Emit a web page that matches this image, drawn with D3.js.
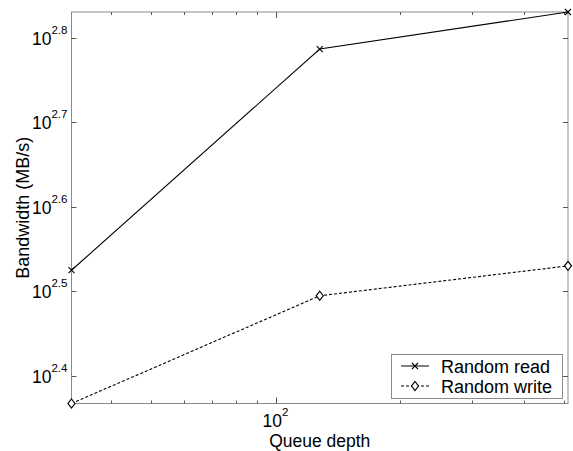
<!DOCTYPE html>
<html>
<head>
<meta charset="utf-8">
<script src="https://cdn.jsdelivr.net/npm/d3@7"></script>
<style>
  html, body { margin: 0; padding: 0; background: #fff; }
  svg { display: block; font-family: Arial, "Liberation Sans", sans-serif; }
</style>
</head>
<body>
<svg id="chart" width="573" height="451"></svg>
<script>
// Queue depths tested and measured bandwidth (MB/s)
const queueDepths = [32, 128, 512];
const randomRead = [335, 612, 677];
const randomWrite = [233, 312.5, 339];
const seriesNames = ["Random read", "Random write"];
const yTickExponents = [2.4, 2.5, 2.6, 2.7, 2.8];
const xMajorTicks = [100];
const xMinorTicks = [40, 50, 60, 70, 80, 90, 200, 300, 400, 500];

const svg = d3.select("#chart");
const box = { left: 71.5, right: 568, top: 12, bottom: 403.5 };

const x = d3.scaleLog()
  .domain([d3.min(queueDepths), d3.max(queueDepths)])
  .range([box.left, box.right]);
const y = d3.scaleLog()
  .domain([d3.min(randomWrite), d3.max(randomRead)])
  .range([box.bottom, box.top]);

const frameColor = "#8a8a8a";
const tickColor = "#555";
const labelSize = 17.5;
const supSize = 11.5;

// Axes frame
svg.append("rect")
  .attr("x", box.left).attr("y", box.top)
  .attr("width", box.right - box.left).attr("height", box.bottom - box.top)
  .attr("fill", "none").attr("stroke", frameColor).attr("stroke-width", 1);

// Inward ticks on all four sides
const ticks = svg.append("g").attr("stroke", tickColor).attr("stroke-width", 1);
function xTick(v, len) {
  const px = Math.round(x(v)) + 0.5;
  ticks.append("line").attr("x1", px).attr("x2", px).attr("y1", box.bottom).attr("y2", box.bottom - len);
  ticks.append("line").attr("x1", px).attr("x2", px).attr("y1", box.top).attr("y2", box.top + len);
}
xMajorTicks.forEach(v => xTick(v, 6));
xMinorTicks.forEach(v => xTick(v, 3));
yTickExponents.forEach(e => {
  const py = Math.round(y(Math.pow(10, e))) + 0.5;
  ticks.append("line").attr("x1", box.left).attr("x2", box.left + 5).attr("y1", py).attr("y2", py);
  ticks.append("line").attr("x1", box.right).attr("x2", box.right - 5).attr("y1", py).attr("y2", py);
});

// Y tick labels: 10 with superscript exponent
yTickExponents.forEach(e => {
  const py = y(Math.pow(10, e));
  const t = svg.append("text")
    .attr("x", 32).attr("y", py + 7)
    .attr("font-size", labelSize).attr("fill", "#000");
  t.append("tspan").text("10");
  t.append("tspan").attr("dy", -11).attr("font-size", supSize).text(e.toFixed(1));
});

// X tick labels
xMajorTicks.forEach(v => {
  const px = x(v);
  const t = svg.append("text")
    .attr("x", px - 13).attr("y", 427)
    .attr("font-size", labelSize).attr("fill", "#000");
  t.append("tspan").text("10");
  t.append("tspan").attr("dy", -11).attr("font-size", supSize).text(Math.round(Math.log10(v)));
});

// Axis titles
svg.append("text")
  .attr("x", (box.left + box.right) / 2).attr("y", 447)
  .attr("text-anchor", "middle").attr("font-size", 17.5).attr("fill", "#000")
  .text("Queue depth");
svg.append("text")
  .attr("transform", `translate(29,${(box.top + box.bottom) / 2}) rotate(-90)`)
  .attr("text-anchor", "middle").attr("font-size", 18).attr("fill", "#000")
  .text("Bandwidth (MB/s)");

const line = d3.line().x(d => x(d[0])).y(d => y(d[1]));
const readPts = queueDepths.map((q, i) => [q, randomRead[i]]);
const writePts = queueDepths.map((q, i) => [q, randomWrite[i]]);

// Series lines
svg.append("path").datum(readPts).attr("d", line)
  .attr("fill", "none").attr("stroke", "#000").attr("stroke-width", 1.1);
svg.append("path").datum(writePts).attr("d", line)
  .attr("fill", "none").attr("stroke", "#000").attr("stroke-width", 1.1)
  .attr("stroke-dasharray", "3,2");

// Markers
function crossMark(g, cx, cy) {
  const s = 3;
  g.append("path")
    .attr("d", `M${cx - s},${cy - s}L${cx + s},${cy + s}M${cx - s},${cy + s}L${cx + s},${cy - s}`)
    .attr("stroke", "#000").attr("stroke-width", 1.1).attr("fill", "none");
}
function diamondMark(g, cx, cy) {
  const w = 3.5, h = 4.5;
  g.append("path")
    .attr("d", `M${cx},${cy - h}L${cx + w},${cy}L${cx},${cy + h}L${cx - w},${cy}Z`)
    .attr("stroke", "#000").attr("stroke-width", 1.2).attr("fill", "#fff");
}
const marks = svg.append("g");
readPts.forEach(p => crossMark(marks, x(p[0]), y(p[1])));
writePts.forEach(p => diamondMark(marks, x(p[0]), y(p[1])));

// Legend
const lg = svg.append("g");
lg.append("rect")
  .attr("x", 391.5).attr("y", 354.5).attr("width", 171).attr("height", 44)
  .attr("fill", "#fff").attr("stroke", frameColor).attr("stroke-width", 1);
const rows = [
  { name: seriesNames[0], y: 366, dash: null, mark: crossMark },
  { name: seriesNames[1], y: 386, dash: "3,2", mark: diamondMark }
];
rows.forEach(r => {
  lg.append("line")
    .attr("x1", 401).attr("x2", 429).attr("y1", r.y).attr("y2", r.y)
    .attr("stroke", "#000").attr("stroke-width", 1)
    .attr("stroke-dasharray", r.dash);
  r.mark(lg, 415, r.y);
  lg.append("text")
    .attr("x", 441).attr("y", r.y + 6.5)
    .attr("font-size", 18).attr("fill", "#000")
    .text(r.name);
});
</script>
</body>
</html>
